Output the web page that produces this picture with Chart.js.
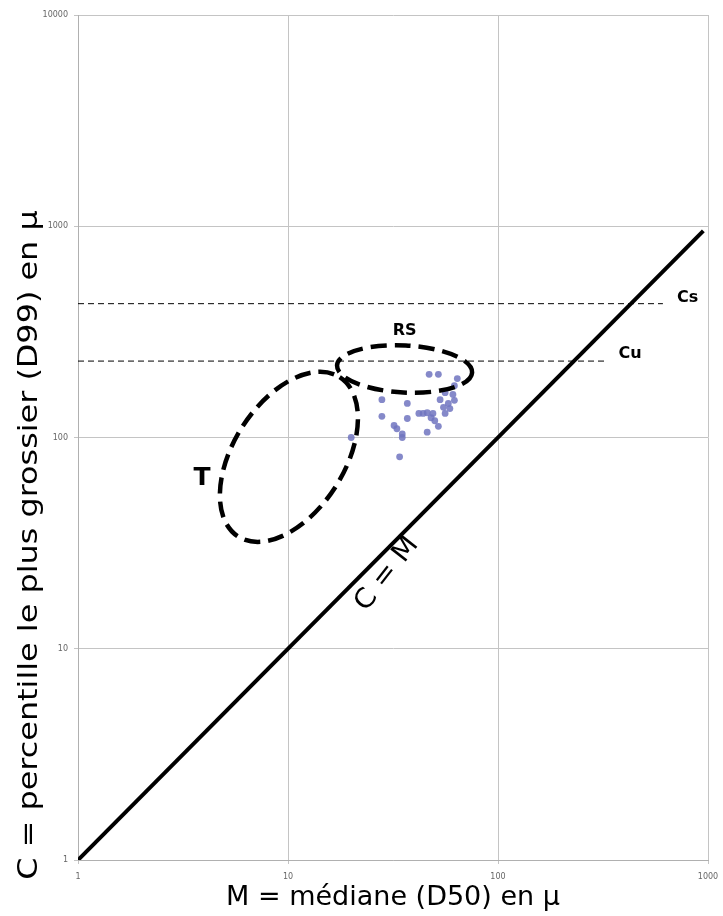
<!DOCTYPE html>
<html>
<head>
<meta charset="utf-8">
<script src="https://cdn.jsdelivr.net/npm/chart.js@4/dist/chart.umd.min.js"></script>
<style>
  html, body { margin: 0; padding: 0; background: #fff; }
  #wrap { width: 723px; height: 916px; }
</style>
</head>
<body>
<div id="wrap"><canvas id="passega"></canvas></div>
<script>
// Echantillons : M (médiane D50) et C (D99), en µ
var medianM   = [47, 52, 64, 28, 37, 56, 61, 53, 58, 55, 28, 37, 42, 46, 49, 56, 50, 52, 32, 33, 35, 35, 46, 34, 20, 44, 62, 59, 48, 62];
var coarsestC = [199, 199, 190, 151, 145, 163, 160, 151, 145, 139, 126, 123, 130, 131, 130, 130, 120, 113, 114, 110, 104, 100, 106, 81, 100, 130, 176, 137, 124, 150];

// droite C = M
var diagM = [1, 950];
var diagC = [1, 950];

// limites Cs et Cu (tiretés)
var csM = [1, 610];
var csC = [430, 430];
var cuM = [1, 330];
var cuC = [230, 230];

var xTicks = [1, 10, 100, 1000];
var yTicks = [1, 10, 100, 1000, 10000];

// enveloppes RS et T (centre en µ, demi-axes en décades, inclinaison en degrés)
var zoneNames = ['RS', 'T'];
var zoneM     = [35.9, 10.1];
var zoneC     = [211, 81];
var zoneMajor = [0.322, 0.45];
var zoneMinor = [0.112, 0.264];
var zoneTilt  = [3, -57.5];

// étiquettes
var labelText = ['RS', 'T', 'Cs', 'Cu'];
var labelM    = [35.9, 3.9, 800, 425];
var labelC    = [321, 64, 456, 250];
var labelSize = [16, 25, 16, 16];

function pts(xs, ys) {
    return xs.map(function(x, i) { return { x: x, y: ys[i] }; });
}

var overlayPlugin = {
    id: 'overlay',
    afterDatasetsDraw: function(chart) {
        var ctx = chart.ctx;
        var xs = chart.scales.x, ys = chart.scales.y;
        var decade = xs.getPixelForValue(10) - xs.getPixelForValue(1);

        ctx.save();
        ctx.strokeStyle = '#000';
        ctx.lineWidth = 4.5;
        ctx.setLineDash([16, 8]);
        zoneNames.forEach(function(name, i) {
            var cx = xs.getPixelForValue(zoneM[i]);
            var cy = ys.getPixelForValue(zoneC[i]);
            ctx.beginPath();
            ctx.ellipse(cx, cy, zoneMajor[i] * decade, zoneMinor[i] * decade,
                zoneTilt[i] * Math.PI / 180, 0, Math.PI * 2);
            ctx.stroke();
        });
        ctx.setLineDash([]);

        ctx.fillStyle = '#000';
        ctx.textAlign = 'center';
        ctx.textBaseline = 'middle';
        labelText.forEach(function(t, i) {
            ctx.font = 'bold ' + labelSize[i] + 'px "DejaVu Sans"';
            ctx.fillText(t, xs.getPixelForValue(labelM[i]), ys.getPixelForValue(labelC[i]));
        });

        // "C = M" le long de la diagonale
        ctx.save();
        ctx.translate(xs.getPixelForValue(29.6), ys.getPixelForValue(22.6));
        ctx.rotate(-52 * Math.PI / 180);
        ctx.scale(1.05, 1);
        ctx.font = '27px "DejaVu Sans"';
        ctx.fillText('C = M', 0, 0);
        ctx.restore();

        // titre de l'axe vertical (étiré comme dans l'original)
        ctx.save();
        ctx.translate(30, 545);
        ctx.rotate(-Math.PI / 2);
        ctx.scale(1.18, 1);
        ctx.font = '27px "DejaVu Sans"';
        ctx.fillText('C = percentille le plus grossier (D99) en µ', 0, 0);
        ctx.restore();

        ctx.restore();
    }
};

var gridStyle = { color: '#c4c4c4', lineWidth: 1, tickLength: 4 };
var tickFont = { family: 'DejaVu Sans', size: 8 };

new Chart(document.getElementById('passega').getContext('2d'), {
    type: 'scatter',
    data: {
        datasets: [{
            label: 'échantillons',
            data: pts(medianM, coarsestC),
            backgroundColor: 'rgba(112, 116, 192, 0.85)',
            borderWidth: 0,
            pointRadius: 3.4
        }, {
            label: 'C = M',
            type: 'line',
            data: pts(diagM, diagC),
            borderColor: '#000',
            borderWidth: 4,
            pointRadius: 0
        }, {
            label: 'Cs',
            type: 'line',
            data: pts(csM, csC),
            borderColor: '#000',
            borderWidth: 1,
            borderDash: [6, 4],
            pointRadius: 0
        }, {
            label: 'Cu',
            type: 'line',
            data: pts(cuM, cuC),
            borderColor: '#000',
            borderWidth: 1,
            borderDash: [6, 4],
            pointRadius: 0
        }]
    },
    options: {
        responsive: true,
        maintainAspectRatio: false,
        animation: false,
        layout: { padding: { top: 15, right: 15, left: 0, bottom: 0 } },
        plugins: { legend: { display: false }, tooltip: { enabled: false } },
        scales: {
            x: {
                type: 'logarithmic',
                min: 1,
                max: 1000,
                afterBuildTicks: function(s) { s.ticks = xTicks.map(function(v) { return { value: v }; }); },
                afterFit: function(s) { s.height = 56; s.paddingRight = 0; s.paddingLeft = 0; },
                grid: gridStyle,
                border: { color: '#b0b0b0' },
                ticks: {
                    color: '#666', font: tickFont, padding: 8, maxRotation: 0,
                    callback: function(v) { return String(v); }
                },
                title: {
                    display: true,
                    text: 'M = médiane (D50) en µ',
                    color: '#000',
                    font: { family: 'DejaVu Sans', size: 27 },
                    padding: { top: 0, bottom: 2 }
                }
            },
            y: {
                type: 'logarithmic',
                min: 1,
                max: 10000,
                afterBuildTicks: function(s) { s.ticks = yTicks.map(function(v) { return { value: v }; }); },
                afterFit: function(s) { s.width = 78; s.paddingTop = 0; s.paddingBottom = 0; },
                grid: gridStyle,
                border: { color: '#b0b0b0' },
                ticks: {
                    color: '#666', font: tickFont, padding: 6,
                    callback: function(v) { return String(v); }
                }
            }
        }
    },
    plugins: [overlayPlugin]
});
</script>
</body>
</html>
